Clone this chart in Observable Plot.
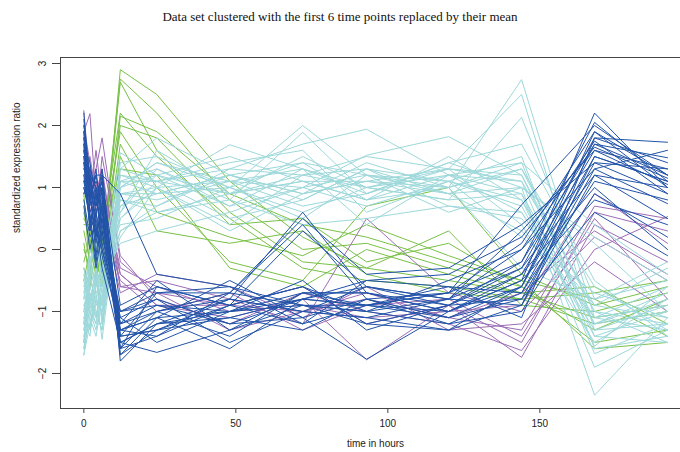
<!DOCTYPE html>
<html><head><meta charset="utf-8">
<script src="https://cdn.jsdelivr.net/npm/d3@7"></script>
<script src="https://cdn.jsdelivr.net/npm/@observablehq/plot@0.6"></script>
<style>
body{margin:0;background:#fff}
#wrap{position:relative;width:680px;height:452px}
#title{position:absolute;top:9px;left:0;width:680px;text-align:center;font-family:"Liberation Serif","Times New Roman",serif;font-size:13px;color:#111}
#wrap svg{position:absolute;top:0;left:0}
</style></head><body>
<div id="wrap"><div id="title">Data set clustered with the first 6 time points replaced by their mean</div></div>
<script>
const times = [0, 2, 4, 6, 12, 24, 48, 72, 93, 120, 144, 168, 192];
const xTicks = [0, 50, 100, 150];
const yTicks = [-2, -1, 0, 1, 2, 3];

const cyanSeries = [
[-1.7,-0.9,-1.2,-0.4,1.56,1.2,0.9,1.1,0.8,1.0,2.74,-1.1,-0.9],
[-1.5,-0.6,-0.9,-0.8,1.3,1.8,1.2,0.9,1.1,1.3,2.5,-1.3,-1.2],
[-1.2,-0.3,-0.7,-1.45,0.9,1.0,1.69,1.3,1.0,0.8,2.13,-0.8,-0.5],
[-1.0,-1.3,-0.5,-0.9,1.1,0.9,1.0,2.0,1.2,1.1,1.5,-1.6,-1.4],
[-0.8,0.0,-0.3,0.2,0.6,1.3,0.8,1.89,0.9,1.4,1.0,-2.35,-1.1],
[-1.4,-0.8,-1.1,-0.6,0.3,0.7,1.3,1.7,1.94,1.2,0.9,-1.9,-1.3],
[-1.6,-1.1,-0.4,-1.2,1.0,1.4,1.1,1.0,1.52,1.82,1.2,-1.2,-0.8],
[-0.6,-0.2,0.1,-0.3,0.5,1.1,0.5,0.8,1.3,0.9,1.3,-1.0,-1.5],
[-1.3,-0.5,-0.8,-1.0,1.2,1.1,1.4,1.6,0.6,1.1,0.7,-1.4,-1.0],
[-1.1,-1.4,-0.6,-0.5,0.8,0.6,0.9,1.2,1.3,0.7,0.5,-0.9,-0.3],
[-0.9,-0.7,-1.0,-1.3,1.4,1.5,1.0,0.6,1.0,1.3,1.1,-1.68,-1.2],
[-1.5,-0.4,-0.2,0.0,0.7,0.9,1.2,1.4,0.8,1.5,0.8,-1.56,-0.6],
[-0.5,-1.0,-1.3,-0.7,0.2,1.0,0.3,0.9,1.4,1.0,1.4,0.4,-0.4],
[-1.2,-0.9,-0.3,-1.1,1.0,1.2,1.5,1.1,1.1,0.9,0.3,-1.1,-1.3],
[-0.7,-0.1,-0.6,-0.2,0.4,0.5,1.0,0.5,1.2,0.6,1.0,0.1,-1.0],
[-1.4,-1.2,-0.9,-0.8,1.1,1.3,0.7,1.3,0.4,1.2,0.6,-1.3,-0.9],
[-1.6,-0.7,-1.1,-0.4,0.9,0.8,1.1,0.7,0.9,1.4,1.7,-0.5,-1.4],
[-1.0,-0.5,-0.4,-0.9,0.6,1.6,0.9,1.5,1.0,0.8,0.9,-1.2,-0.7],
[-0.3,-0.8,-0.7,-0.5,0.1,0.3,0.6,1.0,0.7,1.1,0.2,-0.7,-1.1],
[-1.3,-1.0,-1.2,-1.2,1.3,1.1,1.3,1.2,1.5,1.3,1.2,-1.0,-1.2],
[-0.8,-0.3,0.2,-0.6,0.8,0.7,1.2,0.9,1.1,1.0,-0.3,-0.8,-0.2],
[-1.1,-1.3,-0.8,-1.0,0.5,1.0,0.4,1.2,1.0,1.2,1.4,-1.4,-1.5],
[-1.5,-0.6,-0.5,-0.3,1.0,1.4,1.0,1.4,1.2,0.9,1.0,0.2,-0.5],
[-0.9,-1.1,-1.4,-0.8,0.3,0.6,0.8,0.4,0.5,0.7,0.6,-1.2,-1.0],
[-1.2,-0.4,-0.9,-0.1,1.2,1.0,1.1,1.3,0.9,1.3,0.4,-1.5,-0.8],
[-0.4,-0.9,-0.3,-0.7,0.7,1.2,0.7,1.0,1.2,1.0,1.3,-0.6,-1.3],
[-1.7,-1.2,-1.0,-1.3,0.9,0.9,1.2,0.8,1.3,1.1,0.8,-1.1,-0.6],
[-1.0,-0.2,-0.6,-0.4,1.1,1.1,0.9,1.1,0.8,1.2,1.1,-0.9,-1.1]
];

const blueSeries = [
[2.2,1.0,0.5,1.2,-1.8,-1.2,-1.0,-0.8,-0.9,-1.0,-0.5,2.2,1.0],
[1.9,0.8,1.2,0.6,-1.5,-1.66,-1.3,-0.9,-1.0,-0.8,-0.3,1.8,1.73],
[1.5,1.3,0.2,1.0,-1.3,-1.0,-0.8,0.6,-0.7,-0.9,-0.2,1.7,1.48],
[1.2,0.4,0.9,0.3,-1.2,-0.9,-1.2,-1.1,-1.77,-1.0,-0.6,1.5,1.1],
[1.8,1.1,0.7,1.3,-1.6,-1.4,-0.7,0.4,-0.8,-0.7,0.1,1.9,1.2],
[1.0,0.6,-0.2,0.5,-1.0,-0.8,-1.5,-1.0,-1.1,-1.3,-0.9,1.2,1.0],
[2.0,1.2,1.0,0.8,-1.7,-1.3,-0.9,0.3,-0.6,-0.8,0.3,1.6,1.05],
[1.4,0.3,0.6,0.1,-1.1,-1.5,-1.0,-0.7,-0.9,-1.1,-0.8,1.3,0.74],
[1.6,0.9,1.1,0.9,-1.4,-0.7,-0.6,-1.2,-0.5,-0.6,-1.1,1.8,1.4],
[1.1,0.5,0.3,0.0,-1.3,-1.1,-1.6,-0.8,-0.9,-0.7,0.72,2.0,1.2],
[1.7,1.4,0.8,1.1,-0.9,-0.6,-0.9,-0.6,-1.2,-0.9,-0.4,1.0,0.0],
[0.8,0.2,0.4,-0.3,-1.5,-1.2,-1.1,-1.3,-0.8,-1.2,-0.7,1.4,1.3],
[1.3,1.0,-0.1,0.7,-1.6,-1.0,-0.7,-0.9,-1.0,-0.5,0.0,1.75,0.9],
[1.9,0.7,1.3,0.4,-1.2,-0.5,-1.3,-0.7,-0.7,-1.0,-0.5,0.8,0.4],
[0.9,1.2,0.6,1.0,-1.4,-1.3,-0.8,-1.0,-0.6,-0.8,-0.9,1.5,1.1],
[1.5,0.4,0.9,0.2,-1.0,-0.9,-1.0,-0.5,-1.3,-0.9,-0.3,1.2,0.5],
[2.1,0.9,0.1,0.8,-1.7,-1.1,-0.5,-1.1,-0.8,-1.1,-0.6,1.9,1.0],
[1.2,1.3,1.0,0.6,-1.1,-0.8,-1.2,-0.8,-0.5,-0.4,0.2,1.65,1.15],
[0.7,0.0,0.5,-0.1,-1.3,-1.4,-0.9,-0.6,-1.0,-1.2,-1.0,0.9,0.2],
[1.6,0.8,1.2,1.2,0.9,-0.4,-0.6,-0.9,-0.9,-0.6,-0.7,1.1,0.8],
[1.4,1.1,0.4,0.5,-1.5,-1.2,-0.8,-1.0,-1.1,-0.8,0.0,1.3,1.6],
[1.8,0.6,0.8,0.9,-1.2,-1.0,-1.4,-0.7,-0.7,-1.0,-0.4,1.6,1.3],
[1.0,0.5,-0.3,0.3,-1.6,-0.6,-0.9,-1.2,-0.9,-0.7,-0.2,2.05,1.1],
[1.3,1.2,0.7,1.1,-1.4,-1.3,-1.1,-0.8,-0.6,-0.9,-0.8,0.6,-0.1],
[1.7,0.3,1.0,0.0,-1.0,-0.7,-0.7,0.5,-0.4,-0.3,0.4,1.4,0.9],
[1.1,0.9,0.2,0.7,-1.3,-1.1,-1.0,-0.9,-1.2,-1.3,-0.6,1.7,1.2]
];

const purpleSeries = [
[2.24,1.0,1.3,1.8,-0.2,-0.7,-0.9,-1.0,-0.8,-1.1,-1.3,0.7,0.5],
[1.9,2.19,0.8,1.2,-0.4,-0.9,-1.1,-0.8,-1.78,-0.9,-1.74,0.4,-0.2],
[1.5,0.6,1.0,0.9,-0.6,-0.5,-0.8,-1.2,0.5,-0.7,-1.0,0.2,-0.5],
[2.0,1.4,0.5,1.5,-0.1,-0.8,-1.2,-0.7,-1.0,-1.2,-1.63,0.0,0.53],
[1.2,0.9,1.1,0.4,-0.5,-1.0,-0.7,-1.3,-0.9,-0.8,-1.4,0.5,-0.8],
[1.7,0.4,0.7,1.0,-0.3,-0.6,-1.0,-0.9,-1.1,-1.0,-0.9,0.9,0.1],
[0.9,1.2,0.3,0.6,-0.7,-0.4,-0.6,-1.1,-0.6,-1.3,-1.2,-0.2,-1.0],
[1.4,0.8,1.6,0.8,-0.4,-0.9,-0.9,-0.6,-1.2,-0.9,-1.5,0.6,0.3],
[1.1,1.5,0.9,1.3,-0.6,-0.7,-1.3,-1.0,-0.7,-1.1,-0.7,0.3,-0.4]
];

const greenSeries = [
[0.3,-0.2,0.1,-0.3,2.9,2.5,1.1,0.2,-0.3,-0.5,-0.7,-1.1,-0.9],
[-0.2,0.2,-0.4,0.0,2.75,2.2,0.8,0.0,0.1,-0.3,-0.6,-1.5,-1.3],
[0.9,-0.4,0.3,0.2,2.2,1.5,0.5,-0.3,-0.5,-0.6,-0.8,-0.7,-0.5],
[-0.5,0.0,-0.2,-0.5,2.15,1.9,0.9,0.4,0.2,-0.2,-0.5,-1.6,-1.5],
[0.1,-0.5,0.4,0.1,1.9,1.0,-0.2,-0.5,0.7,1.0,-0.4,-0.9,-0.6],
[0.5,0.3,-0.1,-0.6,1.5,0.3,0.1,0.3,-0.4,-0.7,-0.8,-1.2,-1.0],
[-0.3,-0.6,0.0,0.3,1.3,1.2,-0.3,-0.6,0.0,-0.4,-0.7,-0.6,-1.2],
[0.6,0.1,-0.3,-0.2,2.7,1.6,0.4,0.5,-0.2,0.1,-0.6,-1.3,-0.8],
[0.0,-0.3,0.2,-0.4,1.7,0.6,0.2,-0.1,0.4,-0.1,-0.5,-0.8,-1.4],
[0.4,0.4,-0.5,0.0,2.0,1.8,0.6,-0.2,-0.3,0.3,-0.9,-1.0,-0.7]
];

const clusters = [
  {name: "green", color: "#78c146", rows: greenSeries},
  {name: "purple", color: "#9c6db5", rows: purpleSeries},
  {name: "cyan", color: "#9dd8da", rows: cyanSeries},
  {name: "blue", color: "#2253a8", rows: blueSeries}
];

const data = [];
clusters.forEach(c => c.rows.forEach((row, i) => row.forEach((v, j) => {
  data.push({id: c.name + i, cluster: c.name, color: c.color, t: times[j], v});
})));

const xDomain = [-7.68, 196.27];
const yDomain = [-2.565, 3.097];

const chart = Plot.plot({
  width: 680, height: 452,
  marginLeft: 60, marginRight: 0, marginTop: 57, marginBottom: 44,
  x: {domain: xDomain},
  y: {domain: yDomain},
  style: {fontFamily: "'Liberation Sans', Arial, sans-serif", fontSize: "10px", color: "#222", background: "transparent"},
  marks: [
    Plot.line(data, {x: "t", y: "v", z: "id", stroke: "color", strokeWidth: 1}),
    Plot.ruleY(yDomain, {stroke: "#444", strokeWidth: 1}),
    Plot.ruleX([xDomain[0]], {stroke: "#444", strokeWidth: 1}),
    Plot.axisX({ticks: xTicks, tickSize: 5, tickPadding: 6, tickFormat: d3.format("d"), label: null, stroke: "#444"}),
    Plot.axisY({ticks: yTicks, tickSize: 8, tickPadding: 7, tickRotate: -90, tickFormat: d3.format("d"), label: null, stroke: "#444"}),
    Plot.text(["time in hours"], {frameAnchor: "bottom", dy: 38, dx: 5, fill: "#222"}),
    Plot.text(["standardized expression ratio"], {frameAnchor: "left", dx: -44, rotate: -90, fill: "#222"})
  ]
});
document.getElementById("wrap").appendChild(chart);
</script>
</body></html>
